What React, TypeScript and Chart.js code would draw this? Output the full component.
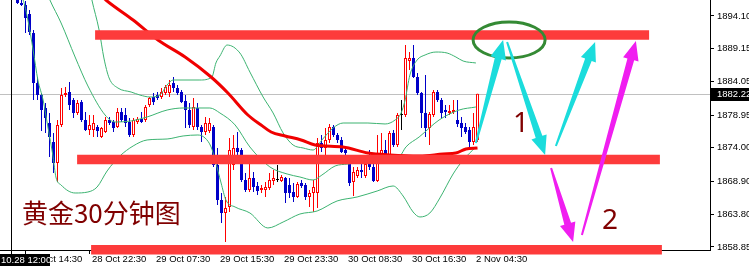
import React, { useEffect, useRef } from 'react';
import { Chart, registerables } from 'chart.js';

Chart.register(...registerables);

// ---------------- data ----------------
const FIRST_BAR = 4;
const OPEN = [
  1897.76, 1896.08, 1895.78, 1894.40, 1891.50, 1883.87, 1882.04, 1880.06, 1877.77, 1874.87,
  1871.67, 1877.47, 1882.04, 1882.50, 1881.28, 1879.30, 1880.97, 1878.23, 1876.70, 1876.70,
  1877.16, 1875.63, 1876.40, 1878.23, 1877.92, 1877.16, 1879.45, 1878.99, 1877.92, 1875.94,
  1877.92, 1878.38, 1878.23, 1880.52, 1881.74, 1882.04, 1881.74, 1882.35, 1882.35, 1883.87,
  1883.11, 1882.50, 1881.13, 1879.75, 1877.16, 1880.06, 1877.16, 1876.40, 1876.55, 1877.16,
  1871.36, 1866.02, 1864.04, 1864.95, 1871.36, 1873.96, 1873.65, 1869.07, 1867.55, 1869.38,
  1868.16, 1867.55, 1867.55, 1867.85, 1868.92, 1869.07, 1868.92, 1869.38, 1868.31, 1867.24,
  1866.48, 1868.61, 1868.31, 1866.48, 1867.09, 1867.09, 1874.72, 1873.96, 1875.18, 1877.16,
  1875.94, 1875.18, 1873.65, 1871.82, 1868.77, 1869.68, 1870.60, 1869.68, 1871.51, 1871.06,
  1868.92, 1871.82, 1873.65, 1872.89, 1876.25, 1874.41, 1878.99, 1878.99, 1887.23, 1887.69,
  1884.79, 1882.35, 1879.30, 1877.01, 1878.99, 1882.50, 1881.28, 1879.75, 1879.30, 1879.45,
  1878.23, 1877.77, 1877.16, 1876.70, 1874.87, 1875.18,
];
const HIGH = [
  1898.37, 1896.85, 1896.39, 1895.01, 1891.96, 1884.79, 1882.35, 1880.82, 1879.30, 1876.25,
  1878.23, 1883.11, 1883.26, 1884.03, 1881.59, 1881.28, 1881.28, 1879.45, 1878.99, 1878.99,
  1877.47, 1877.16, 1878.69, 1878.69, 1878.23, 1880.06, 1880.06, 1880.06, 1878.53, 1878.53,
  1878.69, 1879.45, 1880.52, 1881.74, 1882.35, 1882.50, 1883.11, 1883.57, 1884.33, 1884.79,
  1883.57, 1882.81, 1882.04, 1880.82, 1881.59, 1880.82, 1877.47, 1878.69, 1878.53, 1877.47,
  1873.96, 1867.09, 1866.48, 1875.48, 1875.94, 1876.40, 1873.96, 1870.14, 1872.12, 1870.29,
  1868.77, 1868.31, 1868.77, 1870.14, 1870.60, 1871.36, 1869.83, 1869.53, 1869.38, 1868.61,
  1868.77, 1869.07, 1868.61, 1867.55, 1869.07, 1875.48, 1875.94, 1877.01, 1877.62, 1877.47,
  1876.25, 1875.63, 1874.26, 1872.89, 1871.06, 1871.06, 1871.67, 1871.82, 1873.65, 1871.67,
  1875.94, 1876.25, 1875.18, 1876.55, 1876.70, 1879.30, 1881.28, 1889.67, 1888.60, 1889.67,
  1885.40, 1882.50, 1885.09, 1879.45, 1882.81, 1882.81, 1881.59, 1880.52, 1880.52, 1881.28,
  1881.28, 1878.69, 1877.77, 1877.16, 1879.30, 1882.22,
];
const LOW = [
  1895.93, 1895.62, 1891.50, 1891.20, 1881.28, 1881.28, 1876.55, 1876.25, 1872.58, 1870.14,
  1868.77, 1877.16, 1881.74, 1879.75, 1878.53, 1878.99, 1877.92, 1876.55, 1875.94, 1875.63,
  1875.63, 1875.48, 1876.25, 1877.47, 1876.40, 1877.01, 1877.92, 1877.16, 1875.63, 1875.63,
  1877.62, 1877.77, 1877.92, 1880.21, 1880.52, 1881.28, 1881.43, 1882.04, 1881.74, 1882.50,
  1882.04, 1880.82, 1877.01, 1877.01, 1876.70, 1876.70, 1874.87, 1875.94, 1876.25, 1871.06,
  1865.26, 1862.51, 1859.61, 1864.19, 1870.60, 1872.89, 1868.77, 1867.24, 1867.24, 1867.24,
  1866.78, 1867.09, 1866.48, 1867.55, 1868.31, 1868.77, 1868.77, 1865.56, 1866.33, 1865.72,
  1866.33, 1867.85, 1866.02, 1864.95, 1864.19, 1864.80, 1873.34, 1872.89, 1874.72, 1875.63,
  1874.72, 1873.19, 1872.89, 1868.16, 1866.63, 1869.38, 1869.38, 1869.38, 1870.60, 1868.77,
  1868.77, 1871.51, 1872.58, 1872.58, 1874.11, 1874.11, 1876.70, 1878.69, 1885.86, 1884.64,
  1882.04, 1877.01, 1875.63, 1874.41, 1878.69, 1880.97, 1878.53, 1878.53, 1878.99, 1879.14,
  1877.16, 1875.63, 1876.09, 1873.96, 1874.41, 1874.87,
];
const CLOSE = [
  1896.08, 1895.78, 1893.79, 1891.66, 1883.87, 1882.04, 1879.75, 1878.53, 1875.63, 1871.67,
  1877.47, 1882.04, 1882.35, 1880.52, 1879.30, 1880.82, 1878.23, 1876.70, 1877.47, 1877.77,
  1876.55, 1877.01, 1878.23, 1877.77, 1877.01, 1879.45, 1878.23, 1877.77, 1875.94, 1878.23,
  1878.38, 1877.92, 1880.21, 1881.59, 1880.97, 1881.59, 1882.50, 1883.26, 1883.57, 1883.11,
  1882.35, 1880.97, 1879.75, 1877.47, 1880.21, 1877.16, 1876.40, 1877.77, 1877.77, 1871.36,
  1866.02, 1864.04, 1864.80, 1873.65, 1873.96, 1873.34, 1869.07, 1867.55, 1869.38, 1868.00,
  1867.39, 1867.85, 1868.00, 1869.07, 1869.38, 1869.07, 1869.53, 1867.09, 1867.09, 1866.48,
  1868.46, 1868.16, 1866.48, 1867.09, 1868.00, 1874.72, 1873.96, 1875.18, 1877.16, 1875.94,
  1875.18, 1873.34, 1873.19, 1868.61, 1870.29, 1870.60, 1870.29, 1871.51, 1871.06, 1868.92,
  1871.67, 1873.65, 1872.89, 1876.25, 1874.41, 1878.99, 1878.99, 1887.69, 1887.69, 1884.79,
  1882.35, 1879.30, 1877.01, 1879.14, 1882.50, 1881.28, 1879.30, 1879.45, 1879.60, 1879.75,
  1877.62, 1877.01, 1876.40, 1874.87, 1877.16, 1882.22,
];

const MA_X = [23.4, 26.1, 32.9, 39.1, 45.9, 52.4, 56.6, 61.6, 64.9, 67.4, 70.9, 74.9, 78.4, 85.4, 91.6, 97.1, 104.6, 110.4, 113.6, 116.1, 119];
const MA_Y = [1898.07, 1896.54, 1893.49, 1890.44, 1887.84, 1884.79, 1882.35, 1878.99, 1877.47, 1876.40, 1875.79, 1875.18, 1874.41, 1874.11, 1873.19, 1872.89, 1872.73, 1873.04, 1873.19, 1873.80, 1873.96];

const BB_UP_X = [21.6, 22.6, 24.4, 25.6, 26.9, 29.1, 32.4, 34.6, 37.1, 39.6, 41.4, 42.9, 49.6, 52.6, 53.6, 54.6, 56.4, 59.6, 62.1, 65.4, 67.9, 70.4, 72.9, 75.4, 77.9, 80.1, 82.9, 85.4, 91.6, 95.9, 98.4, 99.9, 100.9, 102.1, 103.9, 105.9, 108.6, 111.4, 113.6, 115.4, 118.6];
const BB_UP_Y = [1899.59, 1896.54, 1891.96, 1887.69, 1884.64, 1883.11, 1882.50, 1882.04, 1881.74, 1882.04, 1883.57, 1884.33, 1884.33, 1884.79, 1886.93, 1887.99, 1889.67, 1888.45, 1885.55, 1881.74, 1879.30, 1876.25, 1874.41, 1873.96, 1873.65, 1875.18, 1877.01, 1877.77, 1877.77, 1877.62, 1878.23, 1879.30, 1881.28, 1885.09, 1887.38, 1888.15, 1888.60, 1888.45, 1887.84, 1887.23, 1886.93];

const BB_MID_X = [10.6, 12.1, 14.9, 18.4, 21.6, 25.9, 28.4, 32.4, 36.4, 41.4, 45.4, 52.1, 54.6, 58.4, 62.1, 67.1, 71.4, 74.6, 77.9, 80.1, 83.4, 86.6, 91.6, 96.6, 99.6, 101.1, 104.4, 109.4, 114.4, 118.6];
const BB_MID_Y = [1898.83, 1896.54, 1893.03, 1887.84, 1883.42, 1878.99, 1877.92, 1878.08, 1878.69, 1879.75, 1880.06, 1880.06, 1879.30, 1877.47, 1874.11, 1871.06, 1869.99, 1869.53, 1869.07, 1869.83, 1871.21, 1871.51, 1871.97, 1872.28, 1872.73, 1874.11, 1875.63, 1878.23, 1879.75, 1880.21];

const BB_LOW_X = [4.1, 5.4, 6.6, 7.9, 9.1, 10.4, 11.6, 12.9, 13.6, 14.9, 18.4, 21.6, 23.9, 26.4, 29.6, 32.9, 36.4, 41.4, 45.4, 49.1, 50.9, 52.4, 53.4, 54.9, 56.1, 58.4, 62.1, 66.6, 70.4, 74.6, 78.9, 83.9, 88.9, 93.9, 97.9, 100.4, 102.9, 104.6, 107.1, 109.6, 112.9, 115.4, 118.6];
const BB_LOW_Y = [1897.30, 1896.54, 1893.49, 1888.91, 1884.33, 1881.28, 1877.16, 1872.58, 1869.53, 1868.31, 1867.09, 1867.24, 1868.00, 1870.45, 1872.73, 1874.26, 1875.18, 1875.33, 1875.79, 1875.94, 1875.48, 1874.11, 1872.12, 1868.61, 1866.02, 1864.95, 1864.04, 1861.75, 1862.66, 1863.88, 1864.34, 1865.87, 1866.48, 1867.39, 1868.16, 1866.63, 1864.19, 1863.43, 1864.04, 1866.33, 1869.99, 1872.12, 1874.11];

const LEVEL_PRICE = [1891.20, 1872.20, 1858.44];
const LEVEL_FROM = [23.4, 18.9, 22.4];
const LEVEL_TO = [161.9, 164.6, 165.1];

const ARROW_FROM_X = [118.6, 126.4, 138.6, 137.4, 145.1];
const ARROW_FROM_Y = [1874.72, 1890.13, 1874.26, 1870.90, 1860.68];
const ARROW_TO_X = [125.4, 135.9, 148.4, 142.9, 158.6];
const ARROW_TO_Y = [1890.44, 1872.89, 1890.13, 1859.61, 1890.28];
const ARROW_COLOR = ['#1bdcdc', '#1bdcdc', '#1bdcdc', '#f01ef0', '#f01ef0'];

const ELLIPSE_X = 126.9;
const ELLIPSE_Y = 1890.44;
const ELLIPSE_RX = 9;
const ELLIPSE_RY = 2.75;

const TITLE = '黄金30分钟图';
const TITLE_X = 5.1;
const TITLE_Y = 1864.04;
const NOTE_TEXT = ['1', '2'];
const NOTE_X = [129.9, 152.1];
const NOTE_Y = [1876.40, 1861.59];

const X_TICK_BARS = [6, 22, 38, 54, 70, 86, 102, 118];
const X_TICK_LABELS = ['28 Oct 14:30', '28 Oct 22:30', '29 Oct 07:30', '29 Oct 15:30', '29 Oct 23:30', '30 Oct 08:30', '30 Oct 16:30', '2 Nov 04:30'];
const Y_TICKS = [1858.85, 1863.80, 1868.90, 1874.00, 1878.95, 1884.05, 1889.15, 1894.10];
const Y_MIN = 1858.39;
const Y_MAX = 1896.54;
const X_MIN = -0.375;
const X_MAX = 177.125;
const LAST_PRICE = 1882.22;
const VLINE_X = 2.4;
const VLINE_LABEL = '10.28 12:00';

// ---------------- styles ----------------
const BULL = '#ff0000';
const BEAR = '#0000c8';
const DOJI = '#000000';
const LEVEL_COLOR = '#fd3b3b';
const BAND_COLOR = '#3cb371';
const MA_COLOR = '#f00000';
const NOTE_COLOR = '#800000';
const AXIS_FONT = "'Liberation Sans', Arial, sans-serif";

export default function App() {
  const ref = useRef<HTMLCanvasElement>(null);

  useEffect(() => {
    document.body.style.margin = '0';
    const canvas = ref.current;
    if (!canvas) return;

    const bars = OPEN.map((_, k) => FIRST_BAR + k);
    const dir = (k: number) => (CLOSE[k] > OPEN[k] ? 1 : CLOSE[k] < OPEN[k] ? -1 : 0);
    const col = (k: number) => (dir(k) > 0 ? BULL : dir(k) < 0 ? BEAR : DOJI);
    const pts = (xs: number[], ys: number[]) => xs.map((x, k) => ({ x, y: ys[k] }));

    const lineBase = { type: 'line' as const, pointRadius: 0, fill: false, cubicInterpolationMode: 'monotone' as const };

    const levelSets = LEVEL_PRICE.map((p, k) => ({
      type: 'line' as const,
      data: [{ x: LEVEL_FROM[k], y: p }, { x: LEVEL_TO[k], y: p }],
      borderColor: LEVEL_COLOR,
      borderWidth: 9.5,
      borderCapStyle: 'butt' as const,
      pointRadius: 0,
      clip: false as any,
      order: 0,
    }));

    const overlay = {
      id: 'overlay',
      beforeDatasetsDraw(chart: any) {
        const { ctx, chartArea, scales } = chart;
        const y = Math.round(scales.y.getPixelForValue(LAST_PRICE)) + 0.5;
        ctx.save();
        ctx.strokeStyle = '#c0c0c0';
        ctx.lineWidth = 1;
        ctx.beginPath();
        ctx.moveTo(chartArea.left, y);
        ctx.lineTo(chartArea.right, y);
        ctx.stroke();
        ctx.restore();
      },
      afterDatasetsDraw(chart: any) {
        const { ctx, scales, chartArea } = chart;
        const xs = scales.x, ys = scales.y;
        ctx.save();
        const vx = Math.round(xs.getPixelForValue(VLINE_X)) + 0.5;
        ctx.strokeStyle = '#000';
        ctx.lineWidth = 1;
        ctx.beginPath();
        ctx.moveTo(vx, chartArea.top);
        ctx.lineTo(vx, chartArea.bottom + 4);
        ctx.stroke();

        const cx = xs.getPixelForValue(ELLIPSE_X);
        const cy = ys.getPixelForValue(ELLIPSE_Y);
        const rx = Math.abs(xs.getPixelForValue(ELLIPSE_X + ELLIPSE_RX) - cx);
        const ry = Math.abs(ys.getPixelForValue(ELLIPSE_Y + ELLIPSE_RY) - cy);
        ctx.strokeStyle = '#348a34';
        ctx.lineWidth = 3;
        ctx.beginPath();
        ctx.ellipse(cx, cy, rx, ry, 0, 0, Math.PI * 2);
        ctx.stroke();

        ARROW_FROM_X.forEach((_, k) => {
          const x1 = xs.getPixelForValue(ARROW_FROM_X[k]);
          const y1 = ys.getPixelForValue(ARROW_FROM_Y[k]);
          const x2 = xs.getPixelForValue(ARROW_TO_X[k]);
          const y2 = ys.getPixelForValue(ARROW_TO_Y[k]);
          const len = Math.hypot(x2 - x1, y2 - y1);
          const ux = (x2 - x1) / len, uy = (y2 - y1) / len;
          const px = -uy, py = ux;
          const headLen = 19, headW = 8, shaftW = 3.5, tailW = 1;
          const bx = x2 - ux * headLen, by = y2 - uy * headLen;
          ctx.fillStyle = ARROW_COLOR[k];
          ctx.beginPath();
          ctx.moveTo(x1 + px * tailW, y1 + py * tailW);
          ctx.lineTo(bx + px * shaftW, by + py * shaftW);
          ctx.lineTo(bx + px * headW, by + py * headW);
          ctx.lineTo(x2, y2);
          ctx.lineTo(bx - px * headW, by - py * headW);
          ctx.lineTo(bx - px * shaftW, by - py * shaftW);
          ctx.lineTo(x1 - px * tailW, y1 - py * tailW);
          ctx.closePath();
          ctx.fill();
        });

        ctx.fillStyle = NOTE_COLOR;
        ctx.font = "26px 'Noto Sans CJK SC', sans-serif";
        ctx.textAlign = 'left';
        ctx.textBaseline = 'middle';
        ctx.fillText(TITLE, xs.getPixelForValue(TITLE_X), ys.getPixelForValue(TITLE_Y));
        ctx.font = "28px 'Noto Sans', sans-serif";
        ctx.textAlign = 'center';
        ctx.textBaseline = 'alphabetic';
        NOTE_TEXT.forEach((t, k) => {
          ctx.fillText(t, xs.getPixelForValue(NOTE_X[k]), ys.getPixelForValue(NOTE_Y[k]));
        });
        ctx.restore();
      },
      afterDraw(chart: any) {
        const { ctx, scales, chartArea } = chart;
        ctx.save();
        ctx.font = `9.5px ${AXIS_FONT}`;
        ctx.textBaseline = 'middle';
        ctx.textAlign = 'left';
        const py = scales.y.getPixelForValue(LAST_PRICE);
        ctx.fillStyle = '#000';
        ctx.fillRect(chartArea.right + 1, Math.round(py) - 6, 60, 13);
        ctx.fillStyle = '#fff';
        ctx.fillText(LAST_PRICE.toFixed(2), chartArea.right + 7, Math.round(py) + 0.5);
        ctx.fillStyle = '#000';
        ctx.fillRect(0, chartArea.bottom + 4, 50, 12);
        ctx.fillStyle = '#fff';
        ctx.fillText(VLINE_LABEL, 1, chartArea.bottom + 10);
        ctx.restore();
      },
    };

    const chart = new Chart(canvas, {
      type: 'bar',
      data: {
        datasets: [
          ...levelSets,
          { ...lineBase, data: pts(MA_X, MA_Y), borderColor: MA_COLOR, borderWidth: 3, order: 1 },
          { ...lineBase, data: pts(BB_UP_X, BB_UP_Y), borderColor: BAND_COLOR, borderWidth: 1, order: 2 },
          { ...lineBase, data: pts(BB_MID_X, BB_MID_Y), borderColor: BAND_COLOR, borderWidth: 1, order: 2 },
          { ...lineBase, data: pts(BB_LOW_X, BB_LOW_Y), borderColor: BAND_COLOR, borderWidth: 1, order: 2 },
          {
            type: 'bar',
            data: bars.map((x, k) => ({ x, y: [OPEN[k], CLOSE[k]] })) as any,
            backgroundColor: (c: any) => (dir(c.dataIndex) > 0 ? '#ffffff' : col(c.dataIndex)),
            borderColor: (c: any) => col(c.dataIndex),
            borderWidth: (c: any) => (dir(c.dataIndex) > 0 ? 1 : 0),
            borderSkipped: false,
            barThickness: 3,
            minBarLength: 1,
            inflateAmount: 0,
            grouped: false,
            order: 3,
          } as any,
          {
            type: 'bar',
            data: bars.map((x, k) => ({ x, y: [LOW[k], HIGH[k]] })) as any,
            backgroundColor: (c: any) => col(c.dataIndex),
            borderWidth: 0,
            barThickness: 1,
            inflateAmount: 0,
            grouped: false,
            order: 4,
          } as any,
        ],
      },
      options: {
        animation: false,
        responsive: false,
        maintainAspectRatio: false,
        devicePixelRatio: 1,
        layout: { padding: 0 },
        events: [],
        plugins: { legend: { display: false }, tooltip: { enabled: false } },
        scales: {
          x: {
            type: 'linear',
            min: X_MIN,
            max: X_MAX,
            offset: false,
            position: 'bottom',
            grid: { display: true, drawOnChartArea: false, drawTicks: true, tickLength: 4, color: '#000', offset: false },
            border: { display: true, color: '#000', width: 1 },
            ticks: {
              autoSkip: false,
              maxRotation: 0,
              minRotation: 0,
              align: 'start',
              labelOffset: 2.5,
              padding: 0,
              color: '#000',
              font: { family: AXIS_FONT, size: 9.5 },
              callback: (v: any) => {
                const k = X_TICK_BARS.indexOf(Number(v));
                return k >= 0 ? X_TICK_LABELS[k] : '';
              },
            },
            afterBuildTicks: (s: any) => {
              s.ticks = X_TICK_BARS.map((v) => ({ value: v }));
            },
            afterFit: (s: any) => {
              s.height = 18;
              s.paddingLeft = 0;
              s.paddingRight = 0;
              s.paddingTop = 0;
              s.paddingBottom = 0;
            },
          } as any,
          y: {
            type: 'linear',
            position: 'right',
            min: Y_MIN,
            max: Y_MAX,
            grid: { display: true, drawOnChartArea: false, drawTicks: true, tickLength: 4, color: '#000' },
            border: { display: true, color: '#000', width: 1 },
            ticks: {
              autoSkip: false,
              padding: 3,
              color: '#000',
              font: { family: AXIS_FONT, size: 9.5 },
              callback: (v: any) => Number(v).toFixed(2),
            },
            afterBuildTicks: (s: any) => {
              s.ticks = Y_TICKS.map((v) => ({ value: v }));
            },
            afterFit: (s: any) => {
              s.width = 39;
              s.paddingTop = 0;
              s.paddingBottom = 0;
              s.paddingLeft = 0;
              s.paddingRight = 0;
            },
          } as any,
        },
      },
      plugins: [overlay],
    });

    return () => chart.destroy();
  }, []);

  return <canvas ref={ref} width={749} height={268} style={{ display: 'block' }} />;
}
